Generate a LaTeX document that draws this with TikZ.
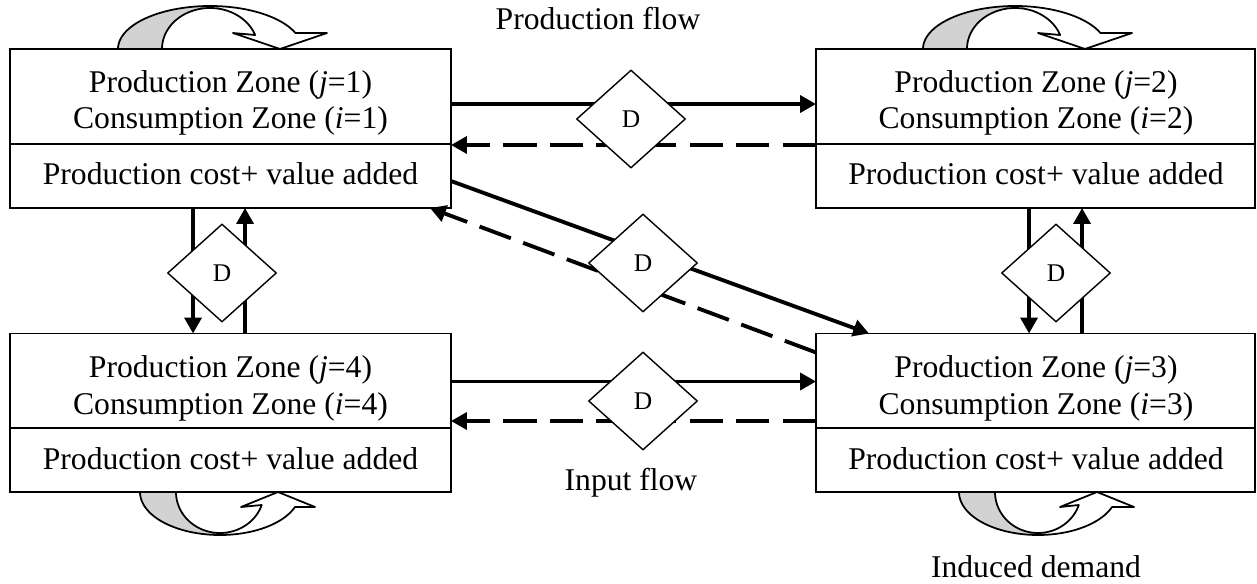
\documentclass[tikz,border=0pt]{standalone}
\usepackage{fontspec}
\setmainfont{Liberation Serif}
\usetikzlibrary{arrows.meta,shapes.geometric,calc}

\definecolor{loopgray}{RGB}{210,210,210}

% curved self-loop arrow drawn on the edge of a zone box
% #1 centre x, #2 base y, #3 -1 above the box / +1 below it,
% #4 outer radius, #5 inner radius, #6 tip offset, #7 half wing span, #8 wing height
\newcommand{\zoneloop}[8]{%
  \pgfmathsetmacro{\loopao}{asin(#8/43)}%
  \pgfmathsetmacro{\loopai}{asin((#8-2)/41)}%
  \filldraw[loopline, fill=loopgray]
    plot[domain=180:90] ({#1+#4*cos(\x)},{#2+#3*43*sin(\x)})
    -- plot[domain=90:180] ({#1+#5*cos(\x)},{#2+#3*41*sin(\x)}) -- cycle;
  \filldraw[loopline, fill=white]
    plot[domain=90:\loopao] ({#1+#4*cos(\x)},{#2+#3*43*sin(\x)})
    -- ({#1+#6+#7},{#2+#3*#8}) -- ({#1+#6},{#2}) -- ({#1+#6-#7},{#2+#3*#8})
    -- plot[domain=\loopai:90] ({#1+#5*cos(\x)},{#2+#3*41*sin(\x)}) -- cycle;
}

\begin{document}
\begin{tikzpicture}[x=0.02cm, y=-0.02cm,
  part/.style={draw, line width=0.8pt, fill=white, inner sep=0, outer sep=0},
  zonetext/.style={anchor=base, align=center, inner sep=0, font=\fontsize{18}{21}\selectfont},
  lbl/.style={anchor=base, inner sep=0, font=\fontsize{18}{21}\selectfont},
  flow/.style={line width=2.2pt, -{Triangle[length=9pt,width=9.5pt]}},
  back/.style={flow, dash pattern=on 19pt off 7.5pt},
  dnode/.style={diamond, draw, fill=white, line width=0.8pt, inner sep=0,
    minimum width=2.18cm, minimum height=1.96cm, font=\fontsize{14.5}{17}\selectfont},
  loopline/.style={draw=black, line width=1pt, line join=round},
  every plot/.style={samples=40}]
\useasboundingbox (0,0) rectangle (1257,584);

% self-loops (induced demand)
\zoneloop{210}{49}{-1}{92}{48}{70}{47}{16}
\zoneloop{1015}{49}{-1}{92}{48}{70}{47}{16}
\zoneloop{220}{492}{1}{80}{44}{58}{37}{15}
\zoneloop{1038}{492}{1}{79}{43}{59}{37}{15}

% zone boxes: upper part (zones) and lower part (costs)
\node[part, minimum width=8.82cm, minimum height=1.9cm]  (z1) at (230.5,96.5) {};
\node[part, minimum width=8.82cm, minimum height=1.28cm] (c1) at (230.5,176) {};
\node[part, minimum width=8.78cm, minimum height=1.9cm]  (z2) at (1035.5,96.5) {};
\node[part, minimum width=8.78cm, minimum height=1.28cm] (c2) at (1035.5,176) {};
\node[part, minimum width=8.78cm, minimum height=1.9cm]  (z3) at (1035.5,381) {};
\node[part, minimum width=8.78cm, minimum height=1.28cm] (c3) at (1035.5,460) {};
\node[part, minimum width=8.82cm, minimum height=1.9cm]  (z4) at (230.5,381) {};
\node[part, minimum width=8.82cm, minimum height=1.28cm] (c4) at (230.5,460) {};

% the base anchor of a two-line label sits on its second line
\node[zonetext] (t1) at (230.5,129) {Production Zone (\textit{j}=1)\\Consumption Zone (\textit{i}=1)};
\node[zonetext] (k1) at (230.5,185) {Production cost+ value added};
\node[zonetext] (t2) at (1036,129) {Production Zone (\textit{j}=2)\\Consumption Zone (\textit{i}=2)};
\node[zonetext] (k2) at (1036,185) {Production cost+ value added};
\node[zonetext] (t3) at (1036,414) {Production Zone (\textit{j}=3)\\Consumption Zone (\textit{i}=3)};
\node[zonetext] (k3) at (1036,469) {Production cost+ value added};
\node[zonetext] (t4) at (230.5,414) {Production Zone (\textit{j}=4)\\Consumption Zone (\textit{i}=4)};
\node[zonetext] (k4) at (230.5,469) {Production cost+ value added};

% flows between zones
\draw[flow] ($(z1.north east)+(0,55)$) -- ($(z2.north west)+(0,55)$);
\draw[back] ($(c2.north west)+(0,1)$) -- ($(c1.north east)+(0,1)$);
\draw[flow] ($(c1.south west)+(183,0)$) -- ($(z4.north west)+(183,0)$);
\draw[flow] ($(z4.north west)+(235,0)$) -- ($(c1.south west)+(235,0)$);
\draw[flow] ($(c1.north east)+(0,37)$) -- ($(z3.north west)+(53,0)$);
\draw[back] ($(z3.north west)+(0,19)$) -- ($(c1.south east)+(-21,0)$);
\draw[flow] ($(c2.south west)+(213,0)$) -- ($(z3.north west)+(213,0)$);
\draw[flow] ($(z3.north west)+(266,0)$) -- ($(c2.south west)+(266,0)$);
\draw[flow] ($(z4.north east)+(0,48)$) -- ($(z3.north west)+(0,48)$);
\draw[back] ($(c3.north west)+(0,-7)$) -- ($(c4.north east)+(0,-7)$);

% distance decay markers
\node[dnode] (d12) at (631,119) {D};
\node[dnode] (d14) at (222,273) {D};
\node[dnode] (d13) at (643,263) {D};
\node[dnode] (d23) at (1056,273) {D};
\node[dnode] (d43) at (643,401) {D};

\node[lbl] (pf) at (598,30) {Production flow};
\node[lbl] (if) at (631,490) {Input flow};
\node[lbl] (id) at (1036,577) {Induced demand};
\end{tikzpicture}
\end{document}
